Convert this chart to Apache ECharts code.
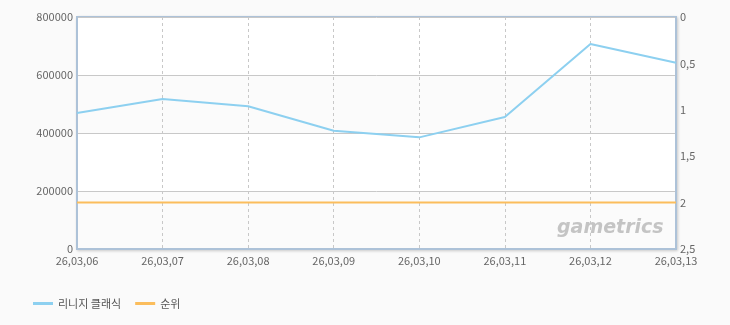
<!DOCTYPE html>
<html><head><meta charset="utf-8">
<script src="https://cdn.jsdelivr.net/npm/echarts@6/dist/echarts.min.js"></script>
<style>html,body{margin:0;padding:0;background:#fafafa;}#c{width:730px;height:325px;}</style>
</head><body><div id="c"></div>
<script>
const categories = ['26,03,06','26,03,07','26,03,08','26,03,09','26,03,10','26,03,11','26,03,12','26,03,13'];
const usersName = '리니지 클래식';
const rankName = '순위';
const users = [469000, 517000, 492000, 408000, 385000, 455000, 707000, 642000];
const rank = [2, 2, 2, 2, 2, 2, 2, 2];

const chart = echarts.init(document.getElementById('c'));
const font = '"Noto Sans CJK KR", "DejaVu Sans", sans-serif';
const borderCol = '#adc2d8';
chart.setOption({
  backgroundColor: '#fafafa',
  animation: false,
  grid: {left: 77, right: 54, top: 17, bottom: 76, show: true, borderColor: borderCol, borderWidth: 2, backgroundColor: '#ffffff',
    shadowColor: 'rgba(0,0,0,0.15)', shadowBlur: 3, shadowOffsetX: 1, shadowOffsetY: 1},
  legend: {
    left: 28, top: 293, itemWidth: 20, itemHeight: 3, itemGap: 14,
    icon: 'rect',
    textStyle: {color: '#555', fontSize: 11, fontFamily: font},
    data: [usersName, rankName]
  },
  xAxis: {
    type: 'category', data: categories, boundaryGap: false,
    axisLine: {show: true, lineStyle: {color: borderCol, width: 2}}, axisTick: {show: false},
    axisLabel: {color: '#666', fontSize: 11, fontFamily: font, margin: 6, showMaxLabel: true, showMinLabel: true, interval: 0},
    splitLine: {show: true, lineStyle: {color: '#c8c8c8', type: [3, 3], width: 1}}
  },
  yAxis: [{
    type: 'value', min: 0, max: 800000, interval: 200000,
    axisLine: {show: true, lineStyle: {color: borderCol, width: 2}}, axisTick: {show: false},
    axisLabel: {color: '#666', fontSize: 11, fontFamily: font, margin: 4, formatter: v => String(v)},
    splitLine: {lineStyle: {color: '#c8c8c8', width: 1}},
    splitArea: {show: true, areaStyle: {color: ['#fbfbfb', '#ffffff']}}
  }, {
    type: 'value', min: 0, max: 2.5, interval: 0.5, inverse: true, position: 'right',
    axisLabel: {color: '#666', fontSize: 11, fontFamily: font, margin: 4, formatter: v => String(v).replace('.', ',')},
    axisLine: {show: true, lineStyle: {color: borderCol, width: 2}}, axisTick: {show: false},
    splitLine: {show: false}
  }],
  graphic: [{
    type: 'text', left: 557, top: 219, z: 2,
    style: {text: 'gametrics', fill: '#c4c4c4', font: 'italic bold 19px "DejaVu Sans", sans-serif'}
  }],
  series: [{
    name: usersName, type: 'line', data: users, yAxisIndex: 0,
    symbol: 'none', lineStyle: {color: '#8dd0f0', width: 2}, itemStyle: {color: '#8dd0f0'}, z: 3
  }, {
    name: rankName, type: 'line', data: rank, yAxisIndex: 1,
    symbol: 'none', lineStyle: {color: '#fbbd5c', width: 2}, itemStyle: {color: '#fbbd5c'}, z: 3
  }]
});
</script></body></html>
